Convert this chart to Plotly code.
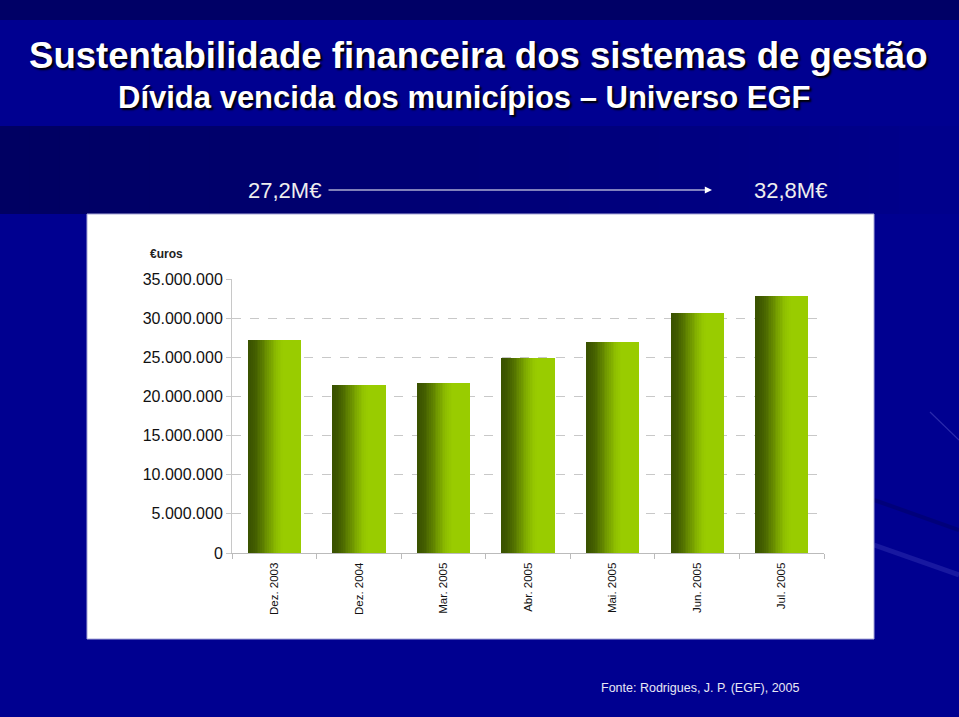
import plotly.graph_objects as go

# ---------------- data ----------------
categories = ["Dez. 2003", "Dez. 2004", "Mar. 2005", "Abr. 2005", "Mai. 2005", "Jun. 2005", "Jul. 2005"]
values = [27_200_000, 21_500_000, 21_700_000, 24_900_000, 27_000_000, 30_700_000, 32_800_000]
y_tickvals = [0, 5_000_000, 10_000_000, 15_000_000, 20_000_000, 25_000_000, 30_000_000, 35_000_000]
y_ticktext = ["0", "5.000.000", "10.000.000", "15.000.000", "20.000.000", "25.000.000", "30.000.000", "35.000.000"]
start_label = "27,2M€"
end_label = "32,8M€"

W, H = 959, 717
L, R, T, B = 232, 824, 279, 553   # plot area in pixels


def xp(px):
    return (px - L) / (R - L)


def yp(py):
    return (B - py) / (B - T)


def lerp_color(c1, c2, t):
    return "rgb({},{},{})".format(*[round(a + (b - a) * t) for a, b in zip(c1, c2)])


dark = (58, 82, 0)
lime = (153, 204, 0)

fig = go.Figure()

# gradient bars built from thin slices
bar_w = 0.63
N = 30
for i in range(N):
    t = (i + 0.5) / N
    s = min(1.0, t / 0.7)
    s = s * s * (3 - 2 * s)
    fig.add_trace(go.Bar(
        x=categories, y=values,
        width=bar_w / N * 1.15 if i < N - 1 else bar_w / N,
        offset=-bar_w / 2 + i * bar_w / N,
        marker=dict(color=lerp_color(dark, lime, s), line=dict(width=0)),
        showlegend=False, hoverinfo="skip",
    ))

shapes = [
    # darker band at top
    dict(type="rect", xref="paper", yref="paper", x0=xp(0), x1=xp(W), y0=yp(0), y1=yp(20),
         fillcolor="#000066", line=dict(width=0), layer="below"),
]
# darker band above the chart, fading from left to right
nb = 32
for k in range(nb):
    c = lerp_color((0, 0, 98), (0, 0, 140), k / (nb - 1))
    shapes.append(dict(type="rect", xref="paper", yref="paper",
                       x0=xp(W * k / nb), x1=xp(W * (k + 1) / nb + 1), y0=yp(126), y1=yp(214),
                       fillcolor=c, line=dict(width=0), layer="below"))
# faint streaks on the right
shapes += [
    dict(type="line", xref="paper", yref="paper", x0=xp(874), y0=yp(545), x1=xp(959), y1=yp(575),
         line=dict(color="rgba(110,110,220,0.22)", width=5), layer="below"),
    dict(type="line", xref="paper", yref="paper", x0=xp(930), y0=yp(412), x1=xp(959), y1=yp(440),
         line=dict(color="rgba(140,140,240,0.3)", width=1.2), layer="below"),
    dict(type="line", xref="paper", yref="paper", x0=xp(874), y0=yp(500), x1=xp(959), y1=yp(530),
         line=dict(color="rgba(0,0,90,0.4)", width=4), layer="below"),
]
# white chart panel
shapes.append(dict(type="rect", xref="paper", yref="paper", x0=xp(87), x1=xp(874), y0=yp(214), y1=yp(639),
                   fillcolor="white", line=dict(color="#a8a8d8", width=1), layer="below"))

shadow = "2px 2px 2px #000000"
annotations = [
    dict(text="<b>Sustentabilidade financeira dos sistemas de gestão</b>", x=xp(478), y=yp(55),
         xref="paper", yref="paper", showarrow=False, xanchor="center", yanchor="middle",
         font=dict(family="Liberation Sans, Arial, sans-serif", size=36.6, color="white", shadow=shadow)),
    dict(text="<b>Dívida vencida dos municípios – Universo EGF</b>", x=xp(464), y=yp(97),
         xref="paper", yref="paper", showarrow=False, xanchor="center", yanchor="middle",
         font=dict(family="Liberation Sans, Arial, sans-serif", size=31, color="white", shadow=shadow)),
    dict(text=start_label, x=xp(284), y=yp(190), xref="paper", yref="paper", showarrow=False,
         xanchor="center", yanchor="middle",
         font=dict(family="Liberation Sans, Arial, sans-serif", size=22, color="#eeeeee")),
    dict(text=end_label, x=xp(790), y=yp(190), xref="paper", yref="paper", showarrow=False,
         xanchor="center", yanchor="middle",
         font=dict(family="Liberation Sans, Arial, sans-serif", size=22, color="#eeeeee")),
    dict(text="", x=xp(712), y=yp(190), xref="paper", yref="paper", showarrow=True,
         ax=327 - 712, ay=0, axref="pixel", ayref="pixel",
         arrowhead=2, arrowsize=1.2, arrowwidth=1.2, arrowcolor="white"),
    dict(text="<b>€uros</b>", x=xp(148), y=yp(254), xref="paper", yref="paper", showarrow=False,
         xanchor="left", yanchor="middle",
         font=dict(family="Liberation Sans, Arial, sans-serif", size=12, color="#222222")),
    dict(text="Fonte: Rodrigues, J. P. (EGF), 2005", x=xp(700), y=yp(688), xref="paper", yref="paper",
         showarrow=False, xanchor="center", yanchor="middle",
         font=dict(family="Liberation Sans, Arial, sans-serif", size=12.5, color="#e8e8f4")),
]

fig.update_layout(
    width=W, height=H,
    margin=dict(l=L, r=W - R, t=T, b=H - B, pad=0),
    paper_bgcolor="#000090",
    plot_bgcolor="rgba(0,0,0,0)",
    barmode="overlay",
    bargap=0,
    shapes=shapes,
    annotations=annotations,
    font=dict(family="Liberation Sans, Arial, sans-serif", color="#111111"),
    xaxis=dict(
        type="category", range=[-0.5, len(categories) - 0.5],
        showline=True, linecolor="#bbbbbb", linewidth=1,
        ticks="outside", tickson="boundaries", ticklen=5, tickcolor="#bbbbbb",
        tickangle=-90, tickfont=dict(size=11.5, color="#111111"), ticklabelstandoff=4,
        showgrid=False, zeroline=False, fixedrange=True,
    ),
    yaxis=dict(
        range=[0, 35_000_000], tickmode="array", tickvals=y_tickvals, ticktext=y_ticktext,
        showline=True, linecolor="#c8c8c8", linewidth=1,
        ticks="outside", ticklen=5, tickcolor="#c8c8c8",
        tickfont=dict(size=16, color="#111111"),
        showgrid=True, gridcolor="#c8c8c8", griddash="dash", gridwidth=1,
        zeroline=False, fixedrange=True,
    ),
)

fig.write_html("out.html", config={"displayModeBar": False},
               post_script="document.body.style.margin='0px';document.body.style.overflow='hidden';")
